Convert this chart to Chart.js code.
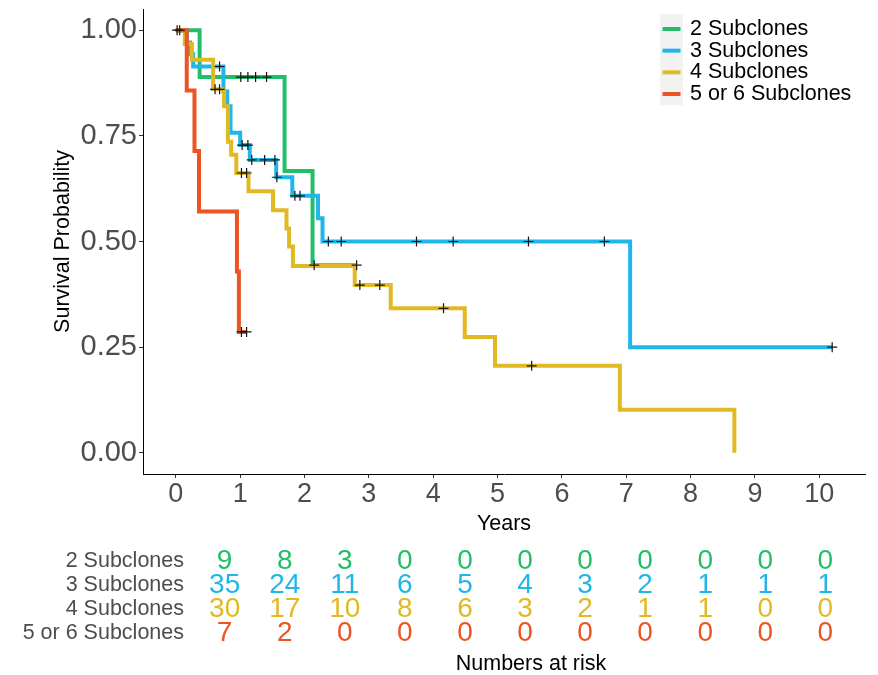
<!DOCTYPE html>
<html>
<head>
<meta charset="utf-8">
<script src="https://cdn.jsdelivr.net/npm/chart.js@4.4.0/dist/chart.umd.min.js"></script>
<style>
  html, body { margin: 0; padding: 0; background: #fff; overflow: hidden; }
  #wrap { position: relative; width: 878px; height: 675px; }
  #km { position: absolute; left: 0; top: 0; }
  #risk { position: absolute; left: 0; top: 500px; }
</style>
</head>
<body>
<div id="wrap">
  <canvas id="km" width="878" height="545"></canvas>
  <canvas id="risk" width="878" height="175"></canvas>
</div>
<script>
// Groups
const groupNames = ['2 Subclones', '3 Subclones', '4 Subclones', '5 or 6 Subclones'];
const groupColors = ['#22BE6A', '#20B7E8', '#E1B922', '#EB5424'];

// Kaplan-Meier steps (years, survival probability)
const g2Times = [0, 0.37, 1.69, 2.125, 2.81];
const g2Surv  = [1, 0.889, 0.667, 0.444, 0.444];
const g3Times = [0, 0.17, 0.22, 0.27, 0.74, 0.80, 0.85, 1.00, 1.15, 1.56, 1.81, 2.21, 2.28, 7.06, 10.2];
const g3Surv  = [1, 0.971, 0.943, 0.914, 0.855, 0.82, 0.757, 0.728, 0.693, 0.652, 0.608, 0.555, 0.5, 0.25, 0.25];
const g4Times = [0, 0.14, 0.25, 0.58, 0.75, 0.81, 0.86, 0.94, 1.13, 1.51, 1.72, 1.76, 1.82, 2.78, 3.34, 4.49, 4.96, 6.90, 8.68];
const g4Surv  = [1, 0.967, 0.93, 0.86, 0.82, 0.736, 0.705, 0.662, 0.619, 0.574, 0.531, 0.488, 0.442, 0.397, 0.342, 0.274, 0.206, 0.102, 0];
const g56Times = [0, 0.17, 0.29, 0.36, 0.95, 0.98, 1.10];
const g56Surv  = [1, 0.857, 0.714, 0.571, 0.429, 0.286, 0.286];

// Censored observations
const g2CensTimes = [1.01, 1.12, 1.24, 1.41, 2.15, 2.81];
const g2CensSurv  = [0.889, 0.889, 0.889, 0.889, 0.444, 0.444];
const g3CensTimes = [0.02, 0.06, 0.68, 1.03, 1.12, 1.18, 1.38, 1.54, 1.57, 1.85, 1.93, 2.37, 2.57, 3.74, 4.31, 5.48, 6.66, 10.2];
const g3CensSurv  = [1, 1, 0.914, 0.728, 0.728, 0.693, 0.693, 0.693, 0.652, 0.608, 0.608, 0.5, 0.5, 0.5, 0.5, 0.5, 0.5, 0.25];
const g4CensTimes = [0.61, 0.68, 1.02, 1.10, 2.86, 3.17, 4.16, 5.53];
const g4CensSurv  = [0.86, 0.86, 0.662, 0.662, 0.397, 0.397, 0.342, 0.206];
const g56CensTimes = [1.02, 1.10];
const g56CensSurv  = [0.286, 0.286];

// Axis ticks
const xTickValues = [0, 1, 2, 3, 4, 5, 6, 7, 8, 9, 10];
const yTickValues = [0, 0.25, 0.5, 0.75, 1];

// Numbers at risk
const riskTimes = [0, 1, 2, 3, 4, 5, 6, 7, 8, 9, 10];
const risk2  = [9, 8, 3, 0, 0, 0, 0, 0, 0, 0, 0];
const risk3  = [35, 24, 11, 6, 5, 4, 3, 2, 1, 1, 1];
const risk4  = [30, 17, 10, 8, 6, 3, 2, 1, 1, 0, 0];
const risk56 = [7, 2, 0, 0, 0, 0, 0, 0, 0, 0, 0];

const FONT = "'Liberation Sans', Arial, sans-serif";
Chart.defaults.font.family = FONT;

const toPoints = (ts, ss) => ts.map((t, i) => ({ x: t, y: ss[i] }));

const curveSets = [[g2Times, g2Surv], [g3Times, g3Surv], [g4Times, g4Surv], [g56Times, g56Surv]];
const censorSets = [[g2CensTimes, g2CensSurv], [g3CensTimes, g3CensSurv], [g4CensTimes, g4CensSurv], [g56CensTimes, g56CensSurv]];

const kmDatasets = [];
curveSets.forEach(([ts, ss], i) => {
  kmDatasets.push({
    label: groupNames[i],
    data: toPoints(ts, ss),
    borderColor: groupColors[i],
    backgroundColor: groupColors[i],
    borderWidth: 4,
    stepped: 'before',
    pointRadius: 0,
    fill: false,
    order: 10 - i
  });
});
censorSets.forEach(([ts, ss], i) => {
  kmDatasets.push({
    label: groupNames[i] + ' (censored)',
    data: toPoints(ts, ss),
    showLine: false,
    pointStyle: 'cross',
    pointRadius: 5,
    borderColor: '#141414',
    borderWidth: 1.2,
    order: 0
  });
});

// Legend in the top-right corner of the plot
const keyLegend = {
  id: 'keyLegend',
  afterDraw(chart) {
    const ctx = chart.ctx;
    ctx.save();
    ctx.fillStyle = '#F2F2F2';
    ctx.fillRect(660, 14, 23, 91);
    ctx.font = '21.5px ' + FONT;
    ctx.textBaseline = 'middle';
    ctx.textAlign = 'left';
    groupNames.forEach((name, i) => {
      const y = 29 + i * 21.67;
      ctx.strokeStyle = groupColors[i];
      ctx.lineWidth = 4;
      ctx.beginPath();
      ctx.moveTo(662.5, y);
      ctx.lineTo(680.5, y);
      ctx.stroke();
      ctx.fillStyle = '#000';
      ctx.fillText(name, 690, y);
    });
    ctx.restore();
  }
};

const axisGrid = { display: true, drawOnChartArea: false, drawTicks: true, tickLength: 4, color: '#333', lineWidth: 1 };
const axisBorder = { display: true, color: '#000', width: 1 };

new Chart(document.getElementById('km'), {
  type: 'line',
  data: { datasets: kmDatasets },
  options: {
    responsive: false,
    animation: false,
    events: [],
    layout: { padding: { left: 0, top: 9, right: 13, bottom: 0 } },
    plugins: { legend: { display: false }, tooltip: { enabled: false } },
    scales: {
      x: {
        type: 'linear',
        min: -0.51,
        max: 10.71,
        afterBuildTicks: s => { s.ticks = xTickValues.map(v => ({ value: v })); },
        afterFit: s => { s.height = 71; s.paddingLeft = 0; s.paddingRight = 0; },
        grid: axisGrid,
        border: axisBorder,
        ticks: { color: '#4D4D4D', font: { size: 27, lineHeight: 1 }, padding: 3, maxRotation: 0, autoSkip: false, callback: v => String(v) },
        title: { display: true, text: 'Years', color: '#000', font: { size: 21.5, lineHeight: 1 }, padding: { top: 0, bottom: 10 } }
      },
      y: {
        type: 'linear',
        min: -0.05,
        max: 1.05,
        afterBuildTicks: s => { s.ticks = yTickValues.map(v => ({ value: v })); },
        afterFit: s => { s.width = 143; s.paddingTop = 0; s.paddingBottom = 0; },
        grid: axisGrid,
        border: axisBorder,
        ticks: { color: '#4D4D4D', font: { size: 29, lineHeight: 1 }, padding: 2, callback: v => Number(v).toFixed(2) },
        title: { display: true, text: 'Survival Probability', color: '#000', font: { size: 21.5, lineHeight: 1 }, padding: { top: 52, bottom: 0 } }
      }
    }
  },
  plugins: [keyLegend]
});

// Numbers-at-risk table
const riskRows = [risk2, risk3, risk4, risk56];
const riskDatasets = riskRows.map((vals, i) => ({
  label: groupNames[i],
  data: riskTimes.map((t, j) => ({ x: t, y: groupNames[i], n: vals[j] })),
  showLine: false,
  pointRadius: 0
}));

const riskNumbers = {
  id: 'riskNumbers',
  afterDatasetsDraw(chart) {
    const ctx = chart.ctx;
    ctx.save();
    ctx.font = '28px ' + FONT;
    ctx.textAlign = 'center';
    ctx.textBaseline = 'middle';
    chart.data.datasets.forEach((ds, i) => {
      const meta = chart.getDatasetMeta(i);
      ctx.fillStyle = groupColors[i];
      meta.data.forEach((el, j) => {
        ctx.fillText(String(ds.data[j].n), el.x, el.y);
      });
    });
    ctx.restore();
  }
};

new Chart(document.getElementById('risk'), {
  type: 'scatter',
  data: { datasets: riskDatasets },
  options: {
    responsive: false,
    animation: false,
    events: [],
    layout: { padding: { left: 0, top: 49, right: 10, bottom: 0 } },
    plugins: { legend: { display: false }, tooltip: { enabled: false } },
    scales: {
      x: {
        type: 'linear',
        min: -0.51,
        max: 10.71,
        afterFit: s => { s.height = 30; s.paddingLeft = 0; s.paddingRight = 0; },
        grid: { display: false },
        border: { display: false },
        ticks: { display: false },
        title: { display: true, text: 'Numbers at risk', color: '#000', font: { size: 21.5, lineHeight: 1 }, padding: { top: 0, bottom: 0 } }
      },
      y: {
        type: 'category',
        labels: groupNames,
        offset: true,
        afterFit: s => { s.width = 194; s.paddingTop = 0; s.paddingBottom = 0; },
        grid: { display: false },
        border: { display: false },
        ticks: { color: '#4D4D4D', font: { size: 21.5, lineHeight: 1 }, padding: 2, autoSkip: false }
      }
    }
  },
  plugins: [riskNumbers]
});
</script>
</body>
</html>
